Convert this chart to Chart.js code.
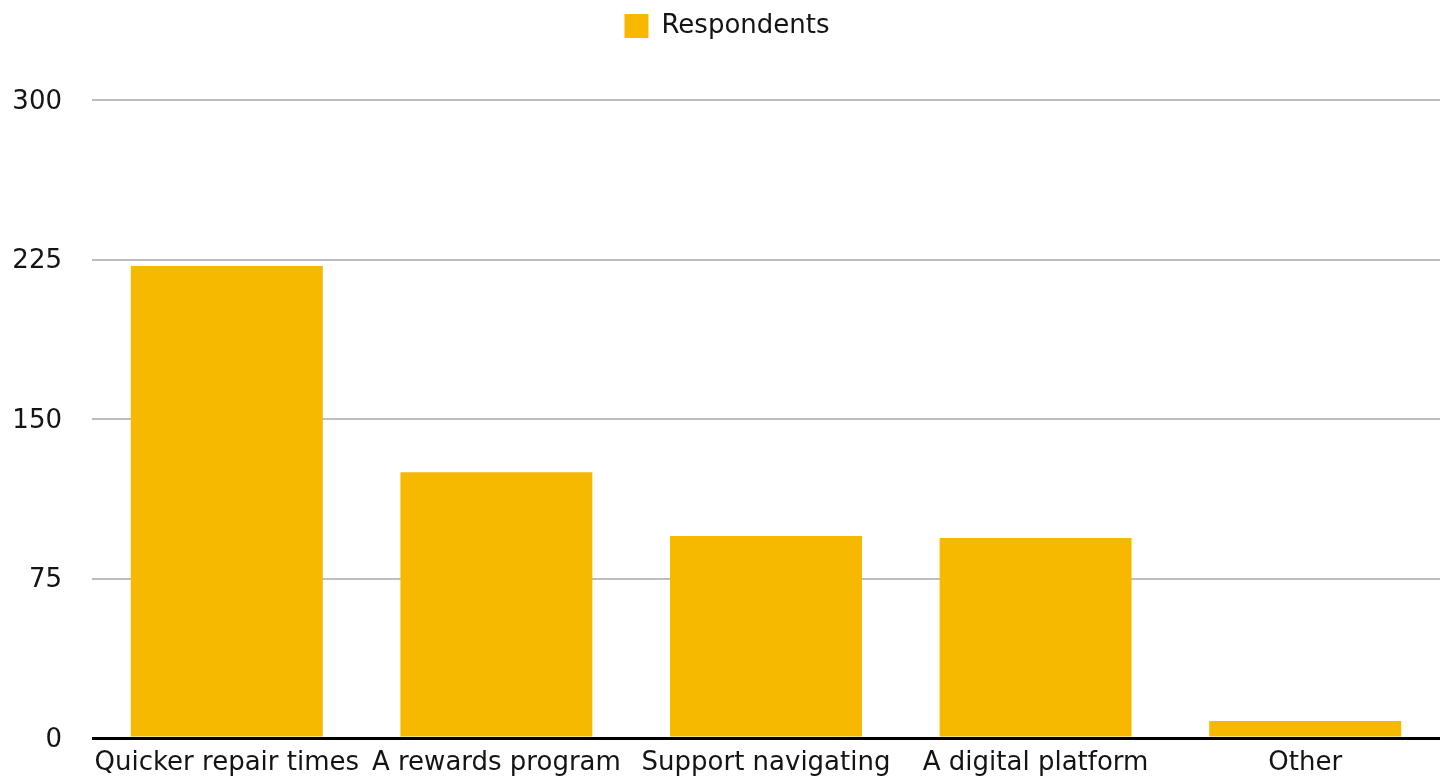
<!DOCTYPE html>
<html>
<head>
<meta charset="utf-8">
<script src="https://cdn.jsdelivr.net/npm/chart.js@4"></script>
<style>
  html, body { margin: 0; padding: 0; background: #fff; overflow: hidden; }
  canvas { display: block; }
</style>
</head>
<body>
<canvas id="chart" width="1447" height="779"></canvas>
<script>
// survey answers and counts
const categories = ['Quicker repair times', 'A rewards program', 'Support navigating', 'A digital platform', 'Other'];
const respondents = [222, 125, 95, 94, 8];
const yTicks = [0, 75, 150, 225, 300];

const FONT = '"DejaVu Sans", sans-serif';
const TEXT = '#141414';

// fixed legend block height so the plot starts lower
const legendSpacer = {
  id: 'legendSpacer',
  beforeInit(chart) {
    const fit = chart.legend.fit;
    chart.legend.fit = function () {
      fit.call(this);
      this.height = 100;
    };
  }
};

new Chart(document.getElementById('chart'), {
  type: 'bar',
  data: {
    labels: categories,
    datasets: [{
      label: 'Respondents',
      data: respondents,
      backgroundColor: '#F6B900',
      categoryPercentage: 1,
      barPercentage: 0.712
    }]
  },
  options: {
    responsive: false,
    animation: false,
    layout: { padding: { left: 14, right: 7, top: 0, bottom: 0 } },
    plugins: {
      legend: {
        labels: {
          color: TEXT,
          font: { family: FONT, size: 26 },
          boxWidth: 24, boxHeight: 24,
          padding: 13
        }
      },
      tooltip: { enabled: false }
    },
    scales: {
      x: {
        grid: { display: false },
        border: { display: false },
        ticks: { color: TEXT, font: { family: FONT, size: 26 }, maxRotation: 0, autoSkip: false, padding: 2 },
        afterFit(axis) {
          axis.paddingLeft = 0;
          axis.paddingRight = 0;
          axis.height = 41;
        }
      },
      y: {
        min: 0, max: 300,
        afterBuildTicks: axis => { axis.ticks = yTicks.map(v => ({ value: v })); },
        afterFit(axis) {
          // tick padding would otherwise reserve space above and below the plot
          axis.width = 78;
          axis.paddingTop = 0;
          axis.paddingBottom = 0;
        },
        border: { display: false },
        grid: {
          drawTicks: false,
          color: ctx => ctx.tick && ctx.tick.value === 0 ? '#000' : '#bdbdbd',
          lineWidth: ctx => ctx.tick && ctx.tick.value === 0 ? 3 : 2
        },
        ticks: { color: TEXT, font: { family: FONT, size: 26 }, padding: 30, labelOffset: 2 }
      }
    }
  },
  plugins: [legendSpacer]
});
</script>
</body>
</html>
